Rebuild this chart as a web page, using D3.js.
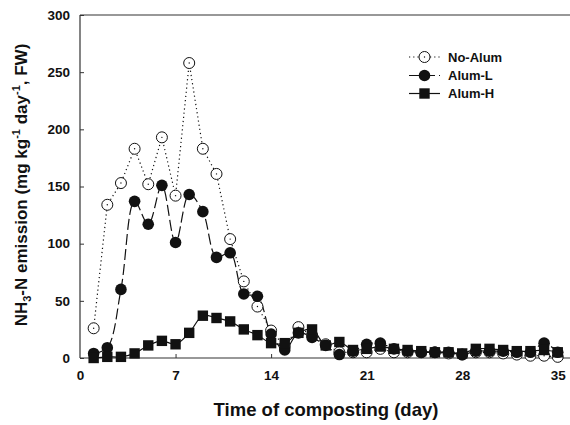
<!DOCTYPE html>
<html>
<head>
<meta charset="utf-8">
<script src="https://cdn.jsdelivr.net/npm/d3@7"></script>
<style>
  body { margin: 0; background: #fff; }
  text { font-family: Arial, "Liberation Sans", sans-serif; font-weight: bold; fill: #111; }
</style>
</head>
<body>
<svg id="chart" width="570" height="425"></svg>
<script>
// days of composting
var days = d3.range(1, 36);

var noAlum = [26, 134, 153, 183, 152, 193, 142, 258, 183, 161, 104, 67, 45, 24, 10,
  27, 20, 12, 5, 5, 5, 8, 5, 5, 5, 5, 4, 3, 5, 5, 4, 3, 2, 2, 1];
var alumL = [4, 9, 60, 137, 117, 151, 101, 143, 128, 88, 92, 56, 54, 21, 7,
  22, 18, 11, 3, 6, 12, 13, 8, 6, 5, 5, 5, 3, 6, 6, 6, 5, 5, 13, 5];
var alumH = [0, 1, 1, 4, 11, 15, 12, 22, 37, 35, 32, 25, 20, 13, 13,
  22, 25, 11, 14, 7, 8, 10, 8, 7, 6, 5, 5, 4, 8, 8, 7, 6, 6, 7, 5];

var xTicks = [0, 7, 14, 21, 28, 35];
var yTicks = [0, 50, 100, 150, 200, 250, 300];
var seriesNames = ["No-Alum", "Alum-L", "Alum-H"];

var svg = d3.select('#chart');

var x = d3.scaleLinear().domain([0, 35]).range([80, 557.75]);
var y = d3.scaleLinear().domain([0, 300]).range([358, 15]);

var ink = '#111';

// frame: left, bottom and top lines
svg.append('line').attr('x1', 80).attr('x2', 80).attr('y1', 15).attr('y2', 358)
  .attr('stroke', '#333').attr('stroke-width', 1.2);
svg.append('line').attr('x1', 80).attr('x2', 570).attr('y1', 358).attr('y2', 358)
  .attr('stroke', '#333').attr('stroke-width', 1.2);
svg.append('line').attr('x1', 80).attr('x2', 570).attr('y1', 15).attr('y2', 15)
  .attr('stroke', '#333').attr('stroke-width', 1.2);

// axes with inward ticks
var yAxis = d3.axisLeft(y).tickValues(yTicks).tickSizeInner(-4).tickSizeOuter(0).tickPadding(10);
var gy = svg.append('g').attr('transform', 'translate(80,0)').call(yAxis);
gy.select('.domain').remove();
gy.selectAll('line').attr('stroke', '#333');
gy.selectAll('text').style('font-size', '13.5px').attr('fill', ink);

var xAxis = d3.axisBottom(x).tickValues(xTicks).tickSizeInner(-4).tickSizeOuter(0).tickPadding(12);
var gx = svg.append('g').attr('transform', 'translate(0,358)').call(xAxis);
gx.select('.domain').remove();
gx.selectAll('line').attr('stroke', '#333');
gx.selectAll('.tick').filter(function(d) { return d == 0 || d == 35; }).select('line').remove();
gx.selectAll('text').style('font-size', '13.5px').attr('fill', ink);

// titles
svg.append('text').attr('x', 326).attr('y', 416).attr('text-anchor', 'middle')
  .style('font-size', '18.5px').text('Time of composting (day)');

var yt = svg.append('text').attr('transform', 'translate(27,185) rotate(-90)')
  .attr('text-anchor', 'middle').style('font-size', '17px');
yt.append('tspan').text('NH');
yt.append('tspan').attr('dy', 4).style('font-size', '11px').text('3');
yt.append('tspan').attr('dy', -4).text('-N emission (mg kg');
yt.append('tspan').attr('dy', -7).style('font-size', '11px').text('-1');
yt.append('tspan').attr('dy', 7).text(' day');
yt.append('tspan').attr('dy', -7).style('font-size', '11px').text('-1');
yt.append('tspan').attr('dy', 7).text(', FW)');

// lines
var linear = d3.line().x(function(d, i) { return x(days[i]); }).y(function(d) { return y(d); });
var spline = d3.line().curve(d3.curveCatmullRom.alpha(0.5))
  .x(function(d, i) { return x(days[i]); }).y(function(d) { return y(d); });

svg.append('path').attr('d', linear(noAlum)).attr('fill', 'none')
  .attr('stroke', ink).attr('stroke-width', 1.2).attr('stroke-dasharray', '1.2,3');

svg.append('path').attr('d', spline(alumL)).attr('fill', 'none')
  .attr('stroke', ink).attr('stroke-width', 1.2).attr('stroke-dasharray', '11,4');

svg.append('path').attr('d', spline(alumH)).attr('fill', 'none')
  .attr('stroke', ink).attr('stroke-width', 1.2);

// markers
var drawOpen = function(g, cx, cy) {
  g.append('circle').attr('cx', cx).attr('cy', cy).attr('r', 5.5)
    .attr('fill', '#fff').attr('stroke', ink).attr('stroke-width', 1);
  g.append('circle').attr('cx', cx).attr('cy', cy).attr('r', 0.7).attr('fill', ink);
};
var drawFilled = function(g, cx, cy) {
  g.append('circle').attr('cx', cx).attr('cy', cy).attr('r', 5.8).attr('fill', ink);
};
var drawSquare = function(g, cx, cy) {
  g.append('rect').attr('x', cx - 5.2).attr('y', cy - 5.2).attr('width', 10.4).attr('height', 10.4).attr('fill', ink);
};

var gm = svg.append('g');
noAlum.forEach(function(v, i) { drawOpen(gm, x(days[i]), y(v)); });
alumL.forEach(function(v, i) { drawFilled(gm, x(days[i]), y(v)); });
alumH.forEach(function(v, i) { drawSquare(gm, x(days[i]), y(v)); });

// legend
var legendRows = [57, 75.5, 93.5];
var lg = svg.append('g');
lg.append('line').attr('x1', 409).attr('x2', 440).attr('y1', legendRows[0]).attr('y2', legendRows[0])
  .attr('stroke', ink).attr('stroke-width', 1.2).attr('stroke-dasharray', '1.2,3');
lg.append('line').attr('x1', 409).attr('x2', 440).attr('y1', legendRows[1]).attr('y2', legendRows[1])
  .attr('stroke', ink).attr('stroke-width', 1.2).attr('stroke-dasharray', '11,4');
lg.append('line').attr('x1', 409).attr('x2', 440).attr('y1', legendRows[2]).attr('y2', legendRows[2])
  .attr('stroke', ink).attr('stroke-width', 1.2);
drawOpen(lg, 424.5, legendRows[0]);
drawFilled(lg, 424.5, legendRows[1]);
drawSquare(lg, 424.5, legendRows[2]);
seriesNames.forEach(function(name, i) {
  lg.append('text').attr('x', 448).attr('y', legendRows[i] + 4.5).style('font-size', '13px').text(name);
});
</script>
</body>
</html>
